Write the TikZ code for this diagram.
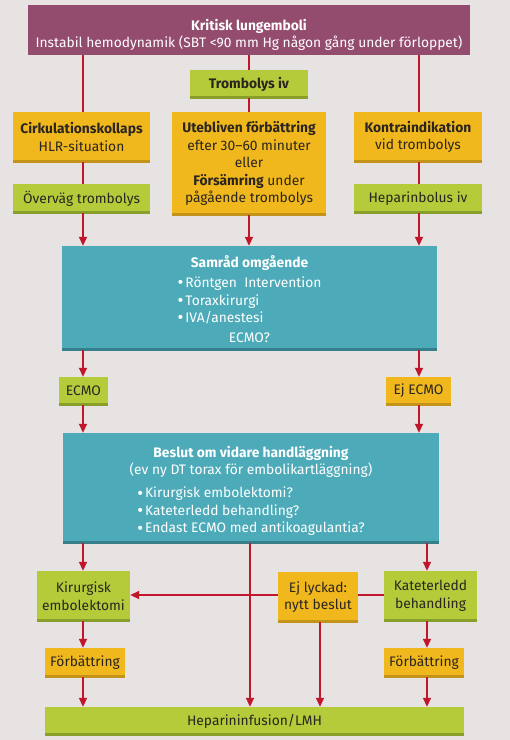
\documentclass[tikz,border=0pt]{standalone}
\usepackage{fontspec}
\setmainfont{Fira Sans}
\usetikzlibrary{arrows.meta}
\definecolor{bg}{HTML}{E6E3E2}
\definecolor{purp}{HTML}{944C6E}
\definecolor{orng}{HTML}{F0B81C}
\definecolor{orngd}{HTML}{C39419}
\definecolor{grn}{HTML}{B6CB3A}
\definecolor{grnd}{HTML}{8A9E2A}
\definecolor{cyn}{HTML}{4DABB9}
\definecolor{cynd}{HTML}{367E8A}
\definecolor{arr}{HTML}{C1172C}
\definecolor{txt}{HTML}{2A2520}
\newcommand{\bul}{\raisebox{-1.2pt}{\fontsize{18}{17}\selectfont•}\hspace{2pt}}
\tikzset{
  base/.style={inner sep=0pt, align=center, text=txt,
    font=\fontsize{13.8}{17.5}\selectfont},
  strip/.style={path picture={\fill[#1] ([yshift=-0.5pt]path picture bounding box.south west) rectangle ([yshift=2.2pt]path picture bounding box.south east);}},
  pbox/.style={base, fill=purp},
  obox/.style={base, fill=orng, strip=orngd},
  gbox/.style={base, fill=grn, strip=grnd},
  cbox/.style={base, fill=cyn, strip=cynd},
  wtext/.style={base, text=white},
  ln/.style={draw=arr, line width=1.8pt},
  ar/.style={ln, -{Triangle[length=9pt,width=8pt]}},
}
\begin{document}
\begin{tikzpicture}[x=1pt,y=-1pt]
\fill[bg] (0,0) rectangle (510,740);
\useasboundingbox (0,0) rectangle (510,740);

\node[pbox, minimum width=442pt, minimum height=50pt] (top) at (249,30) {};
\node[wtext] (topT) at (249,35)
  {\textbf{Kritisk lungemboli}\\Instabil hemodynamik (SBT <90 mm Hg någon gång under förloppet)};
\node[gbox, minimum width=118pt, minimum height=28pt] (tromb) at (249,84) {\textbf{Trombolys iv}};
\node[obox, minimum width=137pt, minimum height=50pt] (cirk) at (81.5,137)
  {\textbf{Cirkulationskollaps}\\HLR-situation};
\node[obox, minimum width=154pt, minimum height=103pt] (uteb) at (249,163.5)
  {\textbf{Utebliven förbättring}\\efter 30–60 minuter\\eller\\\textbf{Försämring} under\\pågående trombolys};
\node[obox, minimum width=128pt, minimum height=50pt] (kontra) at (418,137)
  {\textbf{Kontraindikation}\\vid trombolys};
\node[gbox, minimum width=137pt, minimum height=29pt] (overv) at (81.5,198.5) {Överväg trombolys};
\node[gbox, minimum width=128pt, minimum height=29pt] (hepb) at (418,198.5) {Heparinbolus iv};

\node[cbox, minimum width=375pt, minimum height=104pt] (samrad) at (249.5,298) {};
\node[wtext] (samradT) at (249.5,299)
  {\textbf{Samråd omgående}\\[4pt]
   \begin{tabular}{@{}l@{}}\bul Röntgen\ \ Intervention\\\bul Toraxkirurgi\\\bul IVA/anestesi\end{tabular}\\[4pt]
   ECMO?};
\node[gbox, minimum width=49pt, minimum height=28pt] (ecmo) at (83.5,391) {ECMO};
\node[obox, minimum width=65pt, minimum height=28pt] (ejecmo) at (418.5,391) {Ej ECMO};

\node[cbox, minimum width=376pt, minimum height=110pt] (beslut) at (251,488) {};
\node[wtext] (beslutT) at (251,492)
  {\textbf{Beslut om vidare handläggning}\\(ev ny DT torax för embolikartläggning)\\[7pt]
   \begin{tabular}{@{}l@{}}\bul Kirurgisk embolektomi?\\\bul Kateterledd behandling?\\\bul Endast ECMO med antikoagulantia?\end{tabular}};

\node[gbox, minimum width=93pt, minimum height=50pt] (kir) at (83.5,596) {Kirurgisk\\embolektomi};
\node[obox, minimum width=80pt, minimum height=50pt] (ejl) at (318,597) {Ej lyckad:\\nytt beslut};
\node[gbox, minimum width=93pt, minimum height=50pt] (kat) at (430.5,596) {Kateterledd\\behandling};
\node[obox, minimum width=80pt, minimum height=29pt] (forb1) at (85,662.5) {Förbättring};
\node[obox, minimum width=80pt, minimum height=29pt] (forb2) at (424,662.5) {Förbättring};
\node[gbox, minimum width=419pt, minimum height=28pt] (hepinf) at (254.5,721) {Heparininfusion/LMH};

% connectors
\draw[ln] (top.south -| 83,0) -- (cirk.north -| 83,0);
\draw[ln] (top.south -| 249,0) -- (tromb.north -| 249,0);
\draw[ln] (tromb.south -| 249,0) -- (uteb.north -| 249,0);
\draw[ln] (top.south -| 419,0) -- (kontra.north -| 419,0);
\draw[ln] (cirk.south -| 83,0) -- (overv.north -| 83,0);
\draw[ln] (kontra.south -| 419,0) -- (hepb.north -| 419,0);
\draw[ar] (overv.south -| 83,0) -- (samrad.north -| 83,0);
\draw[ar] (uteb.south -| 249,0) -- (samrad.north -| 249,0);
\draw[ar] (hepb.south -| 419,0) -- (samrad.north -| 419,0);
\draw[ar] (samrad.south -| 83,0) -- (ecmo.north -| 83,0);
\draw[ar] (samrad.south -| 419,0) -- (ejecmo.north -| 419,0);
\draw[ar] (ecmo.south -| 83,0) -- (beslut.north -| 83,0);
\draw[ar] (ejecmo.south -| 419,0) -- (beslut.north -| 419,0);
\draw[ar] (beslut.south -| 83,0) -- (kir.north -| 83,0);
\draw[ar] (beslut.south -| 250,0) -- (hepinf.north -| 250,0);
\draw[ar] (beslut.south -| 427,0) -- (kat.north -| 427,0);
\draw[ln] (kat.west |- 0,595) -- (ejl.east |- 0,595);
\draw[ar] (ejl.west |- 0,595) -- (kir.east |- 0,595);
\draw[ar] (ejl.south -| 320,0) -- (hepinf.north -| 320,0);
\draw[ar] (kir.south -| 83,0) -- (forb1.north -| 83,0);
\draw[ar] (forb1.south -| 83,0) -- (hepinf.north -| 83,0);
\draw[ar] (kat.south -| 427,0) -- (forb2.north -| 427,0);
\draw[ar] (forb2.south -| 427,0) -- (hepinf.north -| 427,0);
\end{tikzpicture}
\end{document}
